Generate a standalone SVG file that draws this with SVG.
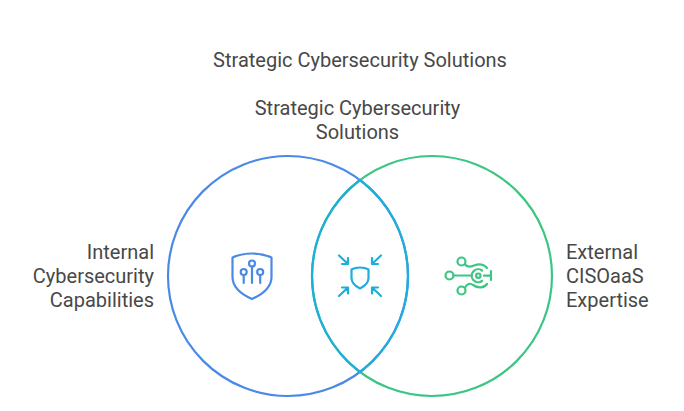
<svg xmlns="http://www.w3.org/2000/svg" width="684" height="411" viewBox="0 0 684 411">
<style>
text{font-family:Roboto,"Liberation Sans",sans-serif;font-size:20px;fill:#484848}
.s{fill:none;stroke-width:2.200;stroke-linecap:round;stroke-linejoin:round}
.b{stroke:#4a8ae6}.c{stroke:#1eaedb}.g{stroke:#3cc583}
.r{fill:none;stroke-width:2.200}
</style>
<rect width="684" height="411" fill="#fff"/>
<text x="360" y="67" text-anchor="middle">Strategic Cybersecurity Solutions</text>
<g id="connectors"/>
<g id="node-internal">
<circle class="r b" cx="288" cy="276" r="120"/>
<g class="s b">
<path d="M252 253.500C259 253.500 266 255 271.500 257.500V277C271.500 288 261 295 252 299C243 295 232.500 288 232.500 277V257.500C238 255 245 253.500 252 253.500Z"/>
<circle cx="252" cy="263.500" r="3"/><circle cx="243.700" cy="272" r="3"/><circle cx="260.200" cy="272" r="3"/>
<path d="M252 266.500V283M243.700 275V283M260.200 275V283"/>
</g>
<text x="154" y="259" text-anchor="end">Internal</text>
<text x="154" y="283" text-anchor="end">Cybersecurity</text>
<text x="154" y="307" text-anchor="end">Capabilities</text>
</g>
<g id="node-external">
<circle class="r g" cx="432" cy="276" r="120"/>
<g class="s g">
<circle cx="461.500" cy="261.500" r="4"/><circle cx="449.500" cy="275.500" r="4"/><circle cx="461.500" cy="290.500" r="4"/>
<path d="M453.500 275.500H472"/>
<path d="M465 264.500C468 268 471 267 474 265.500C479 263.500 484 264.500 487 268"/>
<path d="M465 287.500C467 284 470 282.500 473 285C478 288.500 484 288 487 284"/>
<path d="M482 270.500A6.500 6.500 0 1 0 482 281"/>
<circle cx="478.300" cy="275.700" r="2.200"/>
<path d="M484 275.700H491M491 271V280"/>
</g>
<text x="566" y="259">External</text>
<text x="566" y="283">CISOaaS</text>
<text x="566" y="307">Expertise</text>
</g>
<g id="node-overlap">
<path class="r c" d="M360 180A120 120 0 0 1 360 372A120 120 0 0 1 360 180Z"/>
<g class="s c">
<path d="M360 267.500C363 267.500 366 268 368.500 269.500V278C368.500 283 364 286.500 360 288.500C356 286.500 351.500 283 351.500 278V269.500C354 268 357 267.500 360 267.500Z"/>
<path d="M339 255.500L348 264M348 258V264H342"/>
<path d="M381 255.500L372 264M372 258V264H378"/>
<path d="M339 296L348 287.500M348 293.500V287.500H342"/>
<path d="M381 296L372 287.500M372 293.500V287.500H378"/>
</g>
</g>
<g id="title-overlap">
<text x="357.500" y="115" text-anchor="middle">Strategic Cybersecurity</text>
<text x="357.500" y="139" text-anchor="middle">Solutions</text>
</g>
</svg>
